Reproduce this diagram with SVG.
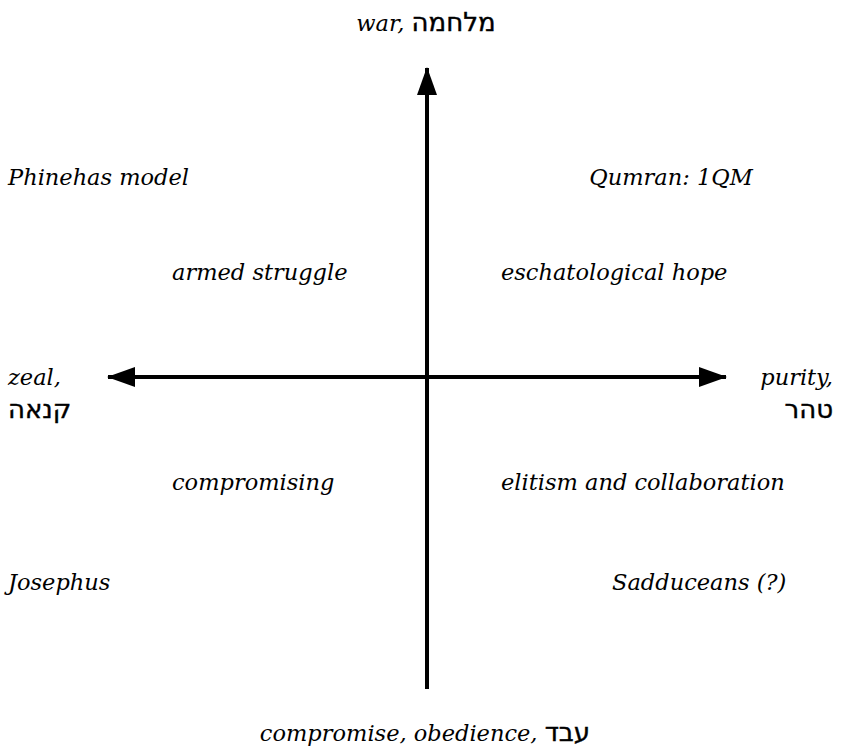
<svg xmlns="http://www.w3.org/2000/svg" width="841" height="749" viewBox="0 0 841 749">
<style>
text{font-family:"DejaVu Serif","Liberation Serif",serif;font-style:italic;font-size:22.5px;fill:#000}
.h{font-family:"DejaVu Sans","Liberation Serif",sans-serif;font-style:normal;font-size:26px;stroke:#000;stroke-width:0.4}
.ax{stroke:#000;stroke-width:4;fill:none}
</style>
<defs>
<marker id="ah" viewBox="0 0 28 20" refX="27" refY="10" markerWidth="28" markerHeight="20" markerUnits="userSpaceOnUse" orient="auto">
<path d="M0,0 L28,10 L0,20 Z" fill="#000"/>
</marker>
</defs>
<rect width="841" height="749" fill="#fff"/>
<g id="connectors">
<line class="ax" x1="427" y1="689" x2="427" y2="68" marker-end="url(#ah)"/>
<line class="ax" x1="427" y1="377" x2="108" y2="377" marker-end="url(#ah)"/>
<line class="ax" x1="427" y1="377" x2="726" y2="377" marker-end="url(#ah)"/>
</g>
<g id="axis-top"><text x="426" y="31" text-anchor="middle">war, <tspan class="h">מלחמה</tspan></text></g>
<g id="axis-left"><text x="8" y="385">zeal,</text><text x="8" y="418" class="h">קנאה</text></g>
<g id="axis-right"><text x="833" y="385" text-anchor="end">purity,</text><text x="833" y="418" text-anchor="end" class="h">טהר</text></g>
<g id="axis-bottom"><text x="425" y="741" text-anchor="middle">compromise, obedience, <tspan class="h">עבד</tspan></text></g>
<g id="phinehas"><text x="8" y="185">Phinehas model</text></g>
<g id="qumran"><text x="671" y="185" text-anchor="middle">Qumran: 1QM</text></g>
<g id="armed"><text x="172" y="280">armed struggle</text></g>
<g id="eschat"><text x="501" y="280">eschatological hope</text></g>
<g id="comp"><text x="172" y="490">compromising</text></g>
<g id="elitism"><text x="501" y="490">elitism and collaboration</text></g>
<g id="josephus"><text x="8" y="590">Josephus</text></g>
<g id="sadduceans"><text x="612" y="590">Sadduceans (?)</text></g>
</svg>
